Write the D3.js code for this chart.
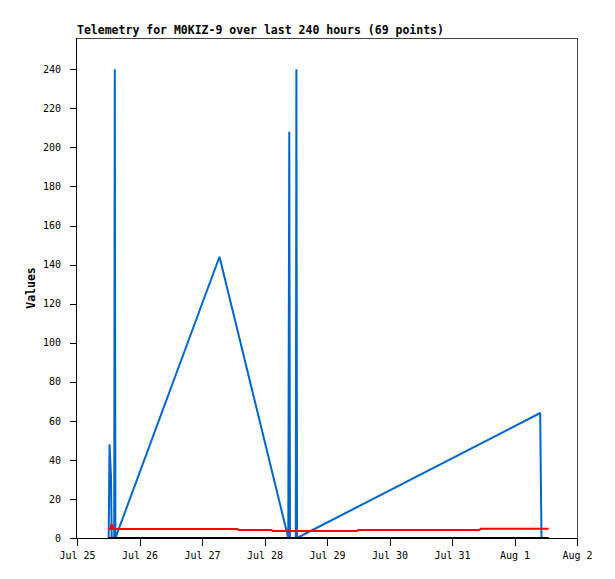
<!DOCTYPE html>
<html>
<head>
<meta charset="utf-8">
<script src="https://cdn.jsdelivr.net/npm/d3@7"></script>
<style>
  body { margin: 0; background: #fff; }
  svg { display: block; }
  .tick text { font-family: "DejaVu Sans Mono", "Liberation Mono", monospace; font-size: 10px; fill: #000; }
  .title, .ylabel { font-family: "DejaVu Sans Mono", "Liberation Mono", monospace; font-size: 11.5px; font-weight: bold; }
</style>
</head>
<body>
<script>
// blue channel
const blueTimes = [
  "2023-07-25 12:10", "2023-07-25 12:29", "2023-07-25 13:03", "2023-07-25 13:19",
  "2023-07-25 14:17", "2023-07-25 14:31", "2023-07-25 14:45", "2023-07-27 06:43",
  "2023-07-28 09:08", "2023-07-28 09:31", "2023-07-28 09:47", "2023-07-28 12:01",
  "2023-07-28 12:15", "2023-07-28 12:29", "2023-08-01 09:52", "2023-08-01 10:06",
  "2023-08-01 10:22"
];
const blueValues = [0, 48, 32, 0, 0, 240, 0, 144, 0, 208, 0, 0, 240, 0, 64, 32, 0];

// red channel
const redTimes = [
  "2023-07-25 12:01", "2023-07-25 12:50", "2023-07-25 13:05", "2023-07-25 13:35",
  "2023-07-25 13:45", "2023-07-27 13:43", "2023-07-27 14:00", "2023-07-28 02:46",
  "2023-07-28 03:00", "2023-07-29 11:38", "2023-07-29 11:55", "2023-07-31 10:38",
  "2023-07-31 10:55", "2023-08-01 13:08"
];
const redValues = [4.6, 4.6, 6.6, 6.6, 4.6, 4.6, 4.1, 4.1, 3.6, 3.6, 4.1, 4.1, 4.7, 4.7];

// black channel
const blackTimes = ["2023-07-25 12:01", "2023-08-01 13:08"];
const blackValues = [0, 0];

const yTicks = [0, 20, 40, 60, 80, 100, 120, 140, 160, 180, 200, 220, 240];
const titleText = "Telemetry for M0KIZ-9 over last 240 hours (69 points)";

const margin = {top: 38, right: 38, bottom: 41, left: 77},
    width = 615 - margin.left - margin.right,
    height = 579 - margin.top - margin.bottom;

const parseTime = d3.utcParse("%Y-%m-%d %H:%M");

let svg = d3.select("body")
  .append("svg")
    .attr("width", 615)
    .attr("height", 579)
  .append("g")
    .attr("transform", "translate(" + margin.left + "," + margin.top + ")");

const xScale = d3.scaleUtc()
    .domain([parseTime("2023-07-25 00:00"), parseTime("2023-08-02 00:00")])
    .range([0, width]);

const yScale = d3.scaleLinear()
    .domain([0, 256])
    .range([height, 0]);

// frame top / right
svg.append("path")
    .attr("d", "M0,0.5H" + (width + 0.5) + "V" + height)
    .attr("fill", "none")
    .attr("stroke", "#444")
    .attr("shape-rendering", "crispEdges");

const line = d3.line()
    .x(d => xScale(d.t))
    .y(d => yScale(d.v));

function series(times, values) {
    return times.map((t, i) => ({t: parseTime(t), v: values[i]}));
}

const drawList = [
    {data: series(blueTimes, blueValues), color: "#0066cc"},
    {data: series(redTimes, redValues), color: "#ff0000"},
    {data: series(blackTimes, blackValues), color: "#000000"}
];

for (s of drawList) {
    svg.append("path")
        .datum(s.data)
        .attr("d", line)
        .attr("fill", "none")
        .attr("stroke", s.color)
        .attr("stroke-width", 2)
        .attr("stroke-linejoin", "miter")
        .attr("stroke-miterlimit", 1);
}

let xAxis = svg.append("g")
    .attr("transform", "translate(0," + height + ")")
    .call(d3.axisBottom(xScale)
        .ticks(d3.utcDay.every(1))
        .tickFormat(d3.utcFormat("%b %-d"))
        .tickSize(8)
        .tickSizeOuter(0)
        .tickPadding(6));
xAxis.selectAll("line, path").attr("shape-rendering", "crispEdges");

let yAxis = svg.append("g")
    .call(d3.axisLeft(yScale)
        .tickValues(yTicks)
        .tickSize(7)
        .tickSizeOuter(0)
        .tickPadding(9));
yAxis.select(".domain").attr("d", "M-0.5," + height + "V0");
yAxis.selectAll("line, path").attr("shape-rendering", "crispEdges");

svg.append("text")
    .attr("class", "title")
    .attr("x", 0)
    .attr("y", -4)
    .text(titleText);

svg.append("text")
    .attr("class", "ylabel")
    .attr("transform", "translate(" + (-42) + "," + (height / 2) + ") rotate(-90)")
    .attr("text-anchor", "middle")
    .text("Values");
</script>
</body>
</html>
